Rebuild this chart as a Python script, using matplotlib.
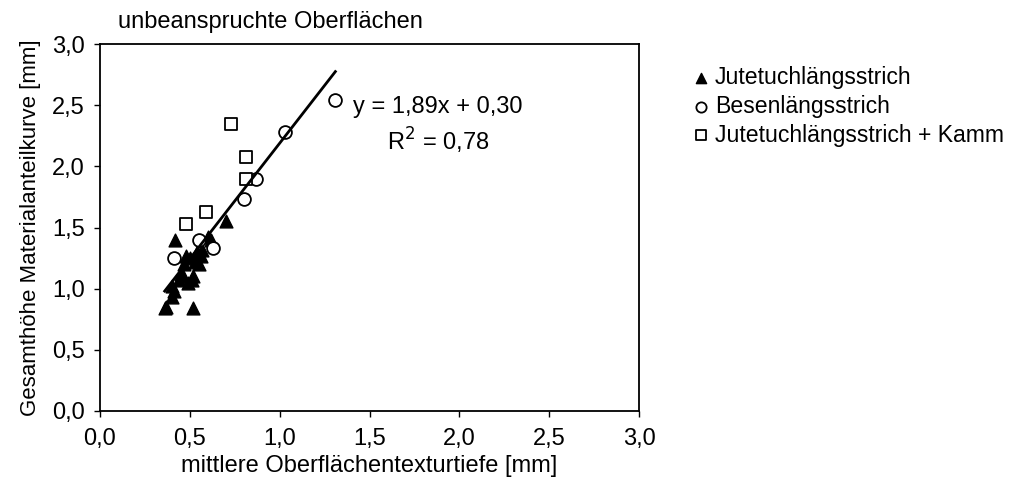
import matplotlib
matplotlib.use("Agg")
import matplotlib.pyplot as plt
import numpy as np

plt.rcParams['font.family'] = ['Liberation Sans', 'DejaVu Sans']

# Jutetuchlängsstrich
jute_x = [0.36, 0.37, 0.52, 0.40, 0.41, 0.40, 0.44, 0.46, 0.49, 0.51, 0.52, 0.45,
          0.42, 0.48, 0.50, 0.53, 0.55, 0.56, 0.57, 0.60, 0.62, 0.70, 0.47, 0.54]
jute_y = [0.84, 0.85, 0.84, 0.93, 0.98, 1.02, 1.07, 1.10, 1.05, 1.07, 1.10, 1.12,
          1.40, 1.27, 1.25, 1.22, 1.20, 1.27, 1.32, 1.42, 1.40, 1.55, 1.20, 1.30]

# Besenlängsstrich
besen_x = [0.41, 0.55, 0.63, 0.80, 0.87, 1.03, 1.31]
besen_y = [1.25, 1.40, 1.33, 1.73, 1.90, 2.28, 2.54]

# Jutetuchlängsstrich + Kamm
kamm_x = [0.48, 0.59, 0.73, 0.81, 0.81]
kamm_y = [1.53, 1.63, 2.35, 2.08, 1.90]

slope, intercept, r2 = 1.89, 0.30, 0.78

ticks = [0.0, 0.5, 1.0, 1.5, 2.0, 2.5, 3.0]
tick_labels = ["0,0", "0,5", "1,0", "1,5", "2,0", "2,5", "3,0"]

FS = 17

fig = plt.figure(figsize=(10.14, 4.91), dpi=100)
ax = fig.add_axes([0.0986, 0.163, 0.5316, 0.747])

ax.scatter(jute_x, jute_y, marker='^', s=85, c='black', edgecolors='black',
           linewidths=1.0, label='Jutetuchlängsstrich', zorder=3)
ax.scatter(besen_x, besen_y, marker='o', s=85, facecolors='white', edgecolors='black',
           linewidths=1.3, label='Besenlängsstrich', zorder=3)
ax.scatter(kamm_x, kamm_y, marker='s', s=85, facecolors='white', edgecolors='black',
           linewidths=1.3, label='Jutetuchlängsstrich + Kamm', zorder=3)

all_x = np.array(jute_x + besen_x + kamm_x)
xl = np.array([all_x.min(), all_x.max()])
ax.plot(xl, slope * xl + intercept, color='black', lw=2.0, zorder=4)

ax.text(1.41, 2.44, "y = 1,89x + 0,30", fontsize=FS, va='baseline', ha='left')
ax.text(1.88, 2.13, "R$^2$ = 0,78", fontsize=FS, va='baseline', ha='center')

ax.set_xlim(0, 3)
ax.set_ylim(0, 3)
ax.set_xticks(ticks)
ax.set_xticklabels(tick_labels)
ax.set_yticks(ticks)
ax.set_yticklabels(tick_labels)
ax.tick_params(direction='out', length=4, width=1, labelsize=FS)
ax.tick_params(axis='x', pad=8)
ax.tick_params(axis='y', pad=7)
for s in ax.spines.values():
    s.set_linewidth(1.3)

ax.set_xlabel("mittlere Oberflächentexturtiefe [mm]", fontsize=FS, labelpad=4)
ax.set_ylabel("Gesamthöhe Materialanteilkurve [mm]", fontsize=16, labelpad=8)
fig.text(118 / 1014, 1 - 28 / 491, "unbeanspruchte Oberflächen", fontsize=FS,
         ha='left', va='baseline')

fig.legend(loc='upper left', bbox_to_anchor=(692 / 1014, 1 - 66 / 491), frameon=False,
           fontsize=16.6, handlelength=0.8, handletextpad=0.2, labelspacing=0.25,
           markerscale=0.8, borderaxespad=0, borderpad=0)

fig.savefig("out.png", dpi=100)
